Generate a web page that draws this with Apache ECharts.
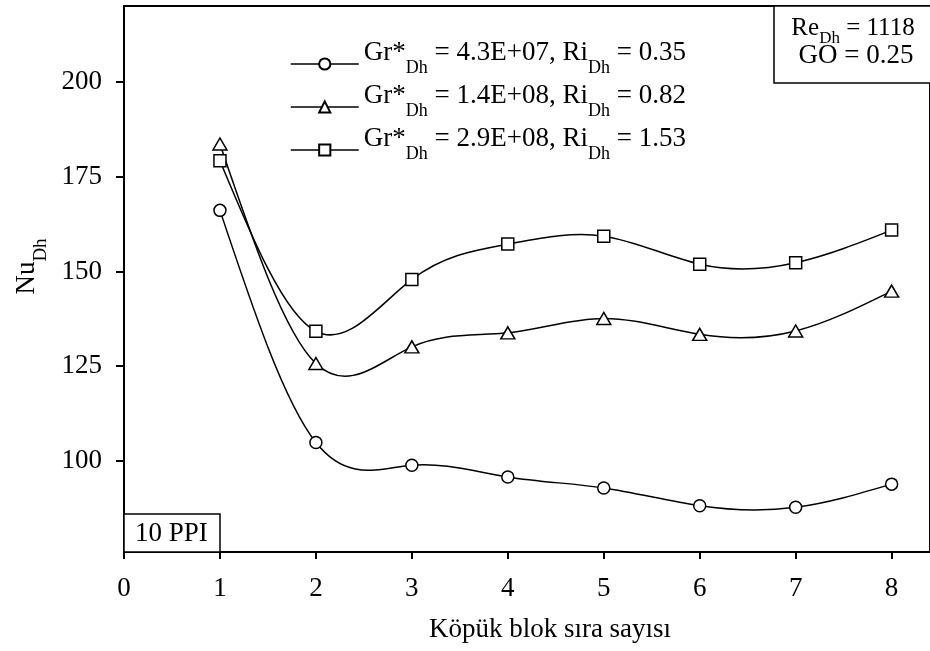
<!DOCTYPE html>
<html>
<head>
<meta charset="utf-8">
<script src="https://cdn.jsdelivr.net/npm/echarts@6/dist/echarts.min.js"></script>
<style>
html,body{margin:0;padding:0;background:#fff;}
#chart{width:930px;height:651px;}
</style>
</head>
<body>
<div id="chart"></div>
<script>
const xValues = [1, 2, 3, 4, 5, 6, 7, 8];
const circleValues = [166.1, 104.9, 98.9, 95.8, 92.9, 88.2, 87.8, 93.9];
const triangleValues = [183.6, 125.7, 130.1, 133.8, 137.6, 133.4, 134.3, 144.8];
const squareValues = [179.2, 134.2, 147.9, 157.2, 159.3, 151.9, 152.3, 160.9];
const xTickValues = [0, 1, 2, 3, 4, 5, 6, 7, 8];
const yTickValues = [100, 125, 150, 175, 200];
const seriesNames = ['s1', 's2', 's3'];
const legendLabels = {
  s1: ['4.3E+07', '0.35'],
  s2: ['1.4E+08', '0.82'],
  s3: ['2.9E+08', '1.53']
};

const FONT = '"Liberation Serif", "Times New Roman", serif';
const chart = echarts.init(document.getElementById('chart'), null, {renderer: 'canvas'});

function pairs(vals) { return xValues.map((x, i) => [x, vals[i]]); }

// natural cubic spline slopes (for drawing the smooth curve through the points)
function splineSlopes(xs, ys) {
  const n = xs.length, h = [], M = new Array(n).fill(0);
  for (let i = 0; i < n - 1; i++) h[i] = xs[i + 1] - xs[i];
  const a = [], b = [], c = [], d = [];
  for (let i = 1; i < n - 1; i++) {
    a[i] = h[i - 1]; b[i] = 2 * (h[i - 1] + h[i]); c[i] = h[i];
    d[i] = 6 * ((ys[i + 1] - ys[i]) / h[i] - (ys[i] - ys[i - 1]) / h[i - 1]);
  }
  for (let i = 2; i < n - 1; i++) {
    const w = a[i] / b[i - 1];
    b[i] -= w * c[i - 1]; d[i] -= w * d[i - 1];
  }
  for (let i = n - 2; i >= 1; i--) {
    M[i] = (d[i] - (i < n - 2 ? c[i] * M[i + 1] : 0)) / b[i];
  }
  const m = [];
  for (let i = 0; i < n - 1; i++) m[i] = (ys[i + 1] - ys[i]) / h[i] - h[i] * (2 * M[i] + M[i + 1]) / 6;
  m[n - 1] = (ys[n - 1] - ys[n - 2]) / h[n - 2] + h[n - 2] * (M[n - 2] + 2 * M[n - 1]) / 6;
  return m;
}

function curveSeries(name, vals) {
  const slopes = splineSlopes(xValues, vals);
  return {
    name: name + '_curve', type: 'custom', data: pairs(vals), z: 2, silent: true,
    renderItem: function (params, api) {
      const i = params.dataIndex;
      if (i >= xValues.length - 1) return null;
      const x0 = api.value(0), y0 = api.value(1);
      const x1 = xValues[i + 1], y1 = vals[i + 1], hh = x1 - x0;
      const p0 = api.coord([x0, y0]), p3 = api.coord([x1, y1]);
      const p1 = api.coord([x0 + hh / 3, y0 + slopes[i] * hh / 3]);
      const p2 = api.coord([x1 - hh / 3, y1 - slopes[i + 1] * hh / 3]);
      return {
        type: 'bezierCurve',
        shape: {x1: p0[0], y1: p0[1], x2: p3[0], y2: p3[1], cpx1: p1[0], cpy1: p1[1], cpx2: p2[0], cpy2: p2[1]},
        style: {stroke: '#000', lineWidth: 1.5, fill: null}
      };
    }
  };
}

const markerStyle = {color: '#fff', borderColor: '#000', borderWidth: 1.5};

function markerSeries(name, vals, symbol, size) {
  return {
    name: name, type: 'line', data: pairs(vals),
    symbol: symbol, symbolSize: size, showAllSymbol: true,
    itemStyle: markerStyle, lineStyle: {color: '#000', width: 0, opacity: 0}, z: 3
  };
}

const option = {
  backgroundColor: '#fff',
  animation: false,
  grid: {left: 124, top: 6, width: 807, bottom: 99, show: true, borderColor: '#000', borderWidth: 2, backgroundColor: 'transparent'},
  xAxis: {
    type: 'value', min: 0, max: 8.4,
    name: 'Köpük blok sıra sayısı', nameLocation: 'middle', nameGap: 64,
    nameTextStyle: {fontFamily: FONT, fontSize: 27, color: '#000', padding: [0, 0, 0, 46]},
    axisLine: {show: true, onZero: false, lineStyle: {color: '#000', width: 2}},
    axisTick: {show: true, inside: false, length: 7, lineStyle: {color: '#000', width: 2}, customValues: xTickValues},
    axisLabel: {fontFamily: FONT, fontSize: 27, color: '#000', margin: 23, customValues: xTickValues},
    splitLine: {show: false}
  },
  yAxis: {
    type: 'value', min: 76, max: 220,
    name: '{n|Nu}{s|Dh}', nameLocation: 'middle', nameRotate: 90, nameGap: 72,
    nameTextStyle: {
      padding: [0, 0, 0, 25],
      rich: {
        n: {fontFamily: FONT, fontSize: 27, color: '#000', lineHeight: 30, verticalAlign: 'top'},
        s: {fontFamily: FONT, fontSize: 19, color: '#000', lineHeight: 20, verticalAlign: 'top', padding: [18, 0, 0, 0]}
      }
    },
    axisLine: {show: true, onZero: false, lineStyle: {color: '#000', width: 2}},
    axisTick: {show: true, inside: false, length: 8, lineStyle: {color: '#000', width: 2}, customValues: yTickValues},
    axisLabel: {fontFamily: FONT, fontSize: 27, color: '#000', margin: 22, customValues: yTickValues},
    splitLine: {show: false}
  },
  legend: {
    orient: 'vertical', left: 285, top: 34, itemWidth: 68, itemHeight: 14, itemGap: 5,
    data: seriesNames,
    lineStyle: {color: '#000', width: 1.5, opacity: 1},
    formatter: function (name) {
      const l = legendLabels[name];
      return '{n|Gr*}{s|Dh}{n| = ' + l[0] + ', Ri}{s|Dh}{n| = ' + l[1] + '}{p| }';
    },
    textStyle: {
      rich: {
        n: {fontFamily: FONT, fontSize: 27, color: '#000', lineHeight: 30, verticalAlign: 'top'},
        s: {fontFamily: FONT, fontSize: 18, color: '#000', lineHeight: 16, verticalAlign: 'top', padding: [20, 0, 0, 0]},
        p: {fontFamily: FONT, fontSize: 4, color: '#000', lineHeight: 50, verticalAlign: 'top'}
      }
    }
  },
  graphic: [
    {type: 'rect', shape: {x: 124, y: 514, width: 96, height: 38}, style: {fill: '#fff', stroke: '#000', lineWidth: 1.5}, z: 10},
    {type: 'text', x: 135, y: 534, style: {text: '10 PPI', font: '27px ' + FONT, fill: '#000', textAlign: 'left', textVerticalAlign: 'middle'}, z: 11},
    {type: 'rect', shape: {x: 774, y: 6, width: 170, height: 77}, style: {fill: '#fff', stroke: '#000', lineWidth: 1.5}, z: 10},
    {type: 'text', x: 853, y: 16, style: {
      text: '{n|Re}{s|Dh}{n| = 1118}', textAlign: 'center', textVerticalAlign: 'top',
      rich: {
        n: {fontFamily: FONT, fontSize: 25, fill: '#000', lineHeight: 26, verticalAlign: 'top'},
        s: {fontFamily: FONT, fontSize: 17, fill: '#000', lineHeight: 16, verticalAlign: 'top', padding: [14, 0, 0, 0]}
      }
    }, z: 11},
    {type: 'text', x: 856, y: 56, style: {text: 'GO = 0.25', font: '27px ' + FONT, fill: '#000', textAlign: 'center', textVerticalAlign: 'middle'}, z: 11}
  ],
  series: [
    curveSeries('s1', circleValues),
    curveSeries('s2', triangleValues),
    curveSeries('s3', squareValues),
    markerSeries('s1', circleValues, 'circle', 12),
    markerSeries('s2', triangleValues, 'triangle', [14, 12]),
    markerSeries('s3', squareValues, 'rect', 12)
  ]
};
chart.setOption(option);
</script>
</body>
</html>
